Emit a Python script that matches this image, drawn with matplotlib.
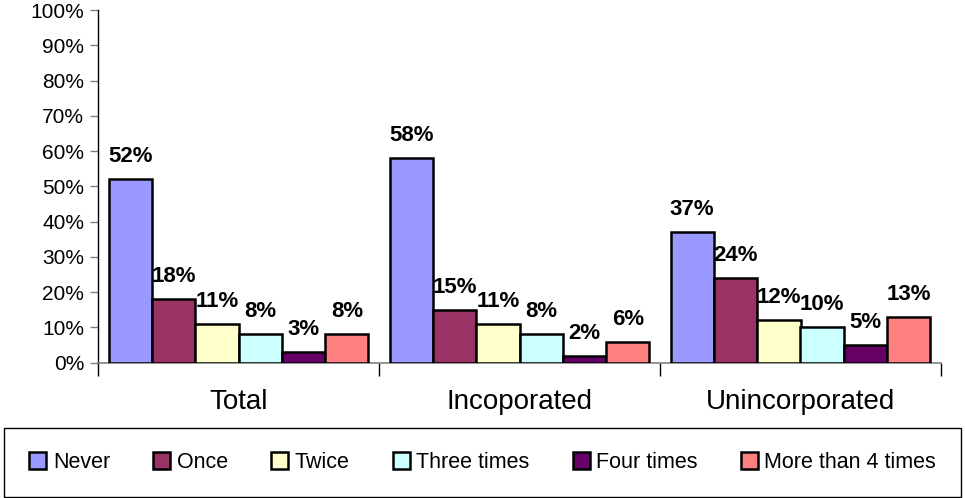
import matplotlib
matplotlib.use("Agg")
import matplotlib.pyplot as plt
import numpy as np
from matplotlib.patches import Rectangle

plt.rcParams['font.family'] = ['Liberation Sans', 'DejaVu Sans']

categories = ["Total", "Incoporated", "Unincorporated"]
series_names = ["Never", "Once", "Twice", "Three times", "Four times", "More than 4 times"]
never = [52, 58, 37]
once = [18, 15, 24]
twice = [11, 11, 12]
three_times = [8, 8, 10]
four_times = [3, 2, 5]
more_than_4 = [8, 6, 13]
series_values = [never, once, twice, three_times, four_times, more_than_4]
colors = ["#9999FF", "#993366", "#FFFFCC", "#CCFFFF", "#660066", "#FF8080"]
yticks = [0, 10, 20, 30, 40, 50, 60, 70, 80, 90, 100]

fig = plt.figure(figsize=(9.65, 4.98), dpi=100)
ax = fig.add_axes([98/965, 1 - 362.7/498, (941 - 98)/965, (362.7 - 10)/498])

x = np.arange(len(categories))
bw = 0.1542
n = len(series_names)
for i, (name, vals, c) in enumerate(zip(series_names, series_values, colors)):
    pos = x - bw * n / 2 + bw * (i + 0.5)
    ax.bar(pos, vals, width=bw, color=c, edgecolor='black', linewidth=1.8, label=name, zorder=3)
    for p, v in zip(pos, vals):
        ax.annotate(f"{v}%", (p, v), xytext=(0, 17), textcoords='offset pixels',
                    ha='center', va='baseline', fontsize=16, fontweight='bold')

ax.set_xlim(-0.5, len(categories) - 0.5)
ax.set_ylim(0, 100)
ax.set_yticks(yticks)
ax.set_yticklabels([f"{t}%" for t in yticks], fontsize=15)
ax.tick_params(axis='y', direction='out', length=6, width=1, color='#808080', pad=4)

ax.set_xticks([-0.5, 0.5, 1.5, 2.5])
ax.set_xticklabels([])
ax.set_xticks(x, minor=True)
ax.set_xticklabels(categories, minor=True, fontsize=20)
ax.tick_params(axis='x', which='major', direction='out', length=9, width=1, color='black')
ax.tick_params(axis='x', which='minor', length=0, pad=19)

for s in ['top', 'right']:
    ax.spines[s].set_visible(False)
ax.spines['left'].set_color('black')
ax.spines['left'].set_linewidth(1)
ax.spines['bottom'].set_color('#808080')
ax.spines['bottom'].set_linewidth(1.2)

leg = fig.legend(loc='center', bbox_to_anchor=(4.3/965, 1 - 497/498, (961 - 4.3)/965, (497 - 428)/498),
                 ncol=6, fontsize=15.5, frameon=False,
                 handlelength=0.8, handleheight=0.8, handletextpad=0.3, columnspacing=2.0,
                 borderpad=0.5)
for h in leg.legend_handles:
    h.set_linewidth(1.8)

fig.patches.append(Rectangle((4.3/965, 1 - 496.7/498), (961 - 4.3)/965, (496.7 - 428)/498,
                             transform=fig.transFigure, fill=False, edgecolor='black', linewidth=1))

fig.savefig("out.png", dpi=100)
